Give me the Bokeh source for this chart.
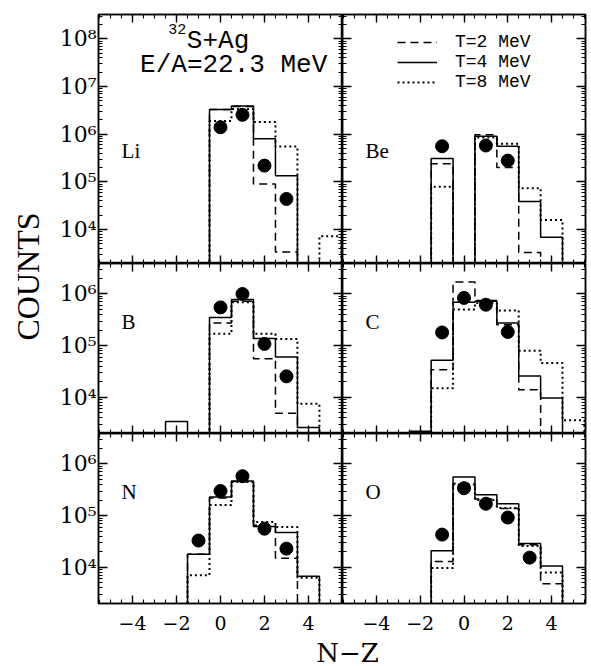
import math
from bokeh.plotting import figure
from bokeh.layouts import row, column
from bokeh.models import (Range1d, LinearAxis, LogAxis, FixedTicker, CustomJSTickFormatter,
                          Label, Legend, LegendItem)
from bokeh.embed import file_html
from bokeh.resources import INLINE

# ---------------- data ----------------
NZ_BINS = [-3, -2, -1, 0, 1, 2, 3, 4, 5]

LI_T2 = [0, 0, 0, 3.3e6, 3.8e6, 9.0e4, 3.4e3, 0, 0]
LI_T4 = [0, 0, 0, 3.3e6, 3.9e6, 8.0e5, 1.34e5, 0, 0]
LI_T8 = [0, 0, 0, 1.9e6, 3.4e6, 1.8e6, 5.5e5, 0, 7.3e3]
LI_X = [0, 1, 2, 3]
LI_Y = [1.4e6, 2.55e6, 2.2e5, 4.4e4]

BE_T2 = [0, 0, 2.4e5, 0, 9.7e5, 2.0e5, 3.3e3, 0, 0]
BE_T4 = [0, 0, 3.1e5, 0, 9.1e5, 5.6e5, 3.9e4, 6.9e3, 0]
BE_T8 = [0, 0, 7.9e4, 0, 8.5e5, 6.3e5, 7.4e4, 1.6e4, 0]
BE_X = [-1, 1, 2]
BE_Y = [5.6e5, 5.8e5, 2.8e5]

B_T2 = [0, 0, 0, 2.75e5, 7.2e5, 5.6e4, 4.9e3, 0, 0]
B_T4 = [0, 3.4e3, 0, 3.5e5, 7.8e5, 1.37e5, 6.0e4, 2.6e3, 0]
B_T8 = [0, 0, 0, 1.7e5, 6.9e5, 1.7e5, 1.35e5, 7.5e3, 0]
B_X = [0, 1, 2, 3]
B_Y = [5.5e5, 1.0e6, 1.08e5, 2.55e4]

C_T2 = [0, 0, 3.4e4, 1.7e6, 7.5e5, 2.55e5, 1.4e4, 0, 0]
C_T4 = [0, 2.2e3, 5.2e4, 6.9e5, 7.2e5, 2.75e5, 2.6e4, 9.7e3, 0]
C_T8 = [0, 0, 1.5e4, 5.0e5, 6.7e5, 4.8e5, 8.0e4, 4.6e4, 3.6e3]
C_X = [-1, 0, 1, 2]
C_Y = [1.8e5, 8.4e5, 6.2e5, 1.84e5]

N_T2 = [0, 0, 1.8e4, 2.2e5, 4.6e5, 6.5e4, 1.5e4, 0, 0]
N_T4 = [0, 0, 1.8e4, 2.3e5, 4.7e5, 6.2e4, 4.7e4, 6.7e3, 0]
N_T8 = [0, 0, 7.0e3, 1.6e5, 4.5e5, 7.5e4, 6.0e4, 6.3e3, 0]
N_X = [-1, 0, 1, 2, 3]
N_Y = [3.3e4, 3.0e5, 5.8e5, 5.6e4, 2.3e4]

O_T2 = [0, 0, 1.3e4, 4.2e5, 2.1e5, 1.37e5, 2.75e4, 4.8e3, 0]
O_T4 = [0, 0, 2.1e4, 5.6e5, 2.55e5, 1.7e5, 2.9e4, 1.06e4, 0]
O_T8 = [0, 0, 9.7e3, 4.0e5, 2.0e5, 1.4e5, 2.6e4, 7.9e3, 0]
O_X = [-1, 0, 1, 2, 3]
O_Y = [4.3e4, 3.4e5, 1.7e5, 9.2e4, 1.54e4]

PANEL_NAMES = ["Li", "Be", "B", "C", "N", "O"]
LEGEND_LABELS = ["T=2 MeV", "T=4 MeV", "T=8 MeV"]
X_TICKS = [-4, -2, 0, 2, 4]
TOP_Y_TICKS = [1e4, 1e5, 1e6, 1e7, 1e8]
LOW_Y_TICKS = [1e4, 1e5, 1e6]

# ---------------- layout constants ----------------
XLO, XHI = -5.55, 5.55
TOP_YR = (10 ** 3.29, 10 ** 8.51)
LOW_YR = (10 ** 3.30, 10 ** 6.59)
FLOOR = 1.0
LEFT_W, RIGHT_W = 244, 243
TOP_H, LOW_H = 249, 170
COUNTS_W = 50
BORDER_TOP, BORDER_BOTTOM = 14, 36
BORDER_LEFT, BORDER_RIGHT = 48, 6
LEGEND_ROW_Y = [211, 191, 171]   # screen offsets (from frame bottom) of the legend rows

SUP = {"0": "\u2070", "1": "\u00b9", "2": "\u00b2", "3": "\u00b3", "4": "\u2074",
       "5": "\u2075", "6": "\u2076", "7": "\u2077", "8": "\u2078", "9": "\u2079"}
SUP_JS = "const sup = %s; const e = Math.round(Math.log10(tick)); return '10' + String(e).split('').map(c => sup[c]).join('');" % (
    "{" + ",".join("'%s':'%s'" % (k, v) for k, v in SUP.items()) + "}")
XFMT_JS = "return tick < 0 ? '\u2212' + Math.abs(tick) : String(tick);"
BLANK_JS = "return '';"


def outline(bins, vals):
    xs, ys = [bins[0] - 0.5], [FLOOR]
    for c, v in zip(bins, vals):
        v = v if v > 0 else FLOOR
        xs += [c - 0.5, c + 0.5]
        ys += [v, v]
    xs.append(bins[-1] + 0.5)
    ys.append(FLOOR)
    return xs, ys


def style_axis(ax, maj_in):
    ax.axis_line_color = "black"
    ax.axis_line_width = 1.5
    ax.major_tick_line_color = "black"
    ax.minor_tick_line_color = "black"
    ax.major_tick_line_width = 1.4
    ax.minor_tick_line_width = 1.1
    ax.major_tick_in = maj_in
    ax.major_tick_out = 0
    ax.minor_tick_in = 4
    ax.minor_tick_out = 0


def blank_axis(ax):
    ax.formatter = CustomJSTickFormatter(code=BLANK_JS)
    ax.major_label_text_font_size = "0px"
    ax.major_label_standoff = 0


def make_panel(name, t2, t4, t8, dx, dy, top, left, bottom, legend=False, title=False):
    yr = TOP_YR if top else LOW_YR
    yticks = TOP_Y_TICKS if top else LOW_Y_TICKS
    ylo_dec = int(math.floor(math.log10(yr[0])))
    yhi_dec = int(math.ceil(math.log10(yr[1])))
    yminor = [k * 10 ** d for d in range(ylo_dec, yhi_dec) for k in range(2, 10)]
    xminor = [i * 0.5 for i in range(-11, 12)]

    p = figure(frame_width=LEFT_W if left else RIGHT_W,
               frame_height=TOP_H if top else LOW_H,
               x_range=Range1d(XLO, XHI), y_range=Range1d(*yr),
               y_axis_type="log", x_axis_location=None, y_axis_location=None,
               toolbar_location=None, output_backend="svg",
               min_border=0,
               min_border_left=BORDER_LEFT if left else 0,
               min_border_right=0 if left else BORDER_RIGHT,
               min_border_top=BORDER_TOP if top else 0,
               min_border_bottom=BORDER_BOTTOM if bottom else 0)
    p.outline_line_color = "black"
    p.outline_line_width = 1.5
    p.grid.visible = False
    p.background_fill_color = "white"
    p.border_fill_color = "white"

    for loc in ["left", "right"]:
        ax = LogAxis(ticker=FixedTicker(ticks=yticks, minor_ticks=yminor))
        style_axis(ax, 9)
        if loc == "left" and left:
            ax.formatter = CustomJSTickFormatter(code=SUP_JS)
            ax.major_label_text_font = "DejaVu Serif"
            ax.major_label_text_font_size = "22px"
            ax.major_label_text_color = "black"
            ax.major_label_standoff = 2
        else:
            blank_axis(ax)
        p.add_layout(ax, loc)
    for loc in ["below", "above"]:
        ax = LinearAxis(ticker=FixedTicker(ticks=X_TICKS, minor_ticks=xminor))
        style_axis(ax, 8)
        if loc == "below" and bottom:
            ax.formatter = CustomJSTickFormatter(code=XFMT_JS)
            ax.major_label_text_font = "DejaVu Serif"
            ax.major_label_text_font_size = "19px"
            ax.major_label_text_color = "black"
            ax.major_label_standoff = 12
        else:
            blank_axis(ax)
        p.add_layout(ax, loc)

    xs, ys = outline(NZ_BINS, t2)
    r2 = p.line(xs, ys, line_color="black", line_width=1.5, line_dash="8 5")
    xs, ys = outline(NZ_BINS, t4)
    r4 = p.line(xs, ys, line_color="black", line_width=1.5)
    xs, ys = outline(NZ_BINS, t8)
    r8 = p.line(xs, ys, line_color="black", line_width=2, line_dash="2 3")
    p.scatter(dx, dy, size=13, color="black")

    p.add_layout(Label(x=-4.5, y=10 ** (5.65 if top else 5.46), text=name,
                       text_font="Liberation Serif", text_font_size="21px",
                       text_color="black", text_align="left", text_baseline="middle"))

    if title:
        p.add_layout(Label(x=-1.56, y=10 ** 8.2, text="32",
                           text_font="Liberation Mono", text_font_size="15px",
                           text_color="black", text_align="right", text_baseline="middle"))
        p.add_layout(Label(x=-1.53, y=10 ** 7.96, text="S+Ag",
                           text_font="Liberation Mono", text_font_size="26px",
                           text_color="black", text_align="left", text_baseline="middle"))
        p.add_layout(Label(x=0.6, y=10 ** 7.46, text="E/A=22.3 MeV",
                           text_font="Liberation Mono", text_font_size="26px",
                           text_color="black", text_align="center", text_baseline="middle"))
    if legend:
        for lab, rend, vy in zip(LEGEND_LABELS, [r2, r4, r8], LEGEND_ROW_Y):
            leg = Legend(items=[LegendItem(label=lab, renderers=[rend])],
                         location=(55, vy), padding=0, margin=0, spacing=0,
                         glyph_width=40, glyph_height=18, label_height=18, label_standoff=18,
                         label_text_font="Liberation Mono", label_text_font_size="18px",
                         label_text_color="black",
                         border_line_color=None, background_fill_alpha=0)
            p.add_layout(leg)
    return p


p_li = make_panel(PANEL_NAMES[0], LI_T2, LI_T4, LI_T8, LI_X, LI_Y, True, True, False, title=True)
p_be = make_panel(PANEL_NAMES[1], BE_T2, BE_T4, BE_T8, BE_X, BE_Y, True, False, False, legend=True)
p_b = make_panel(PANEL_NAMES[2], B_T2, B_T4, B_T8, B_X, B_Y, False, True, False)
p_c = make_panel(PANEL_NAMES[3], C_T2, C_T4, C_T8, C_X, C_Y, False, False, False)
p_n = make_panel(PANEL_NAMES[4], N_T2, N_T4, N_T8, N_X, N_Y, False, True, True)
p_o = make_panel(PANEL_NAMES[5], O_T2, O_T4, O_T8, O_X, O_Y, False, False, True)

GRID_H = BORDER_TOP + TOP_H + LOW_H + LOW_H + BORDER_BOTTOM
TOTAL_W, TOTAL_H = 591, 666

counts_fig = figure(width=COUNTS_W, height=GRID_H, x_range=Range1d(0, COUNTS_W),
                    y_range=Range1d(0, GRID_H), x_axis_location=None, y_axis_location=None,
                    toolbar_location=None, output_backend="svg", min_border=0)
counts_fig.outline_line_color = None
counts_fig.grid.visible = False
counts_fig.add_layout(Label(x=27, y=GRID_H - 276, text="COUNTS", angle=math.pi / 2,
                            text_font="Liberation Serif", text_font_size="32px",
                            text_color="black", text_align="center", text_baseline="middle"))

NZ_H = TOTAL_H - GRID_H
nz_fig = figure(width=TOTAL_W, height=NZ_H, x_range=Range1d(0, TOTAL_W),
                y_range=Range1d(0, NZ_H), x_axis_location=None, y_axis_location=None,
                toolbar_location=None, output_backend="svg", min_border=0)
nz_fig.outline_line_color = None
nz_fig.grid.visible = False
nz_fig.add_layout(Label(x=347, y=TOTAL_H - 652, text="N\u2212Z",
                        text_font="DejaVu Serif", text_font_size="26px",
                        text_color="black", text_align="center", text_baseline="middle"))

layout = column(row(counts_fig, column(row(p_li, p_be), row(p_b, p_c), row(p_n, p_o))), nz_fig)

open("out.html", "w").write(file_html(layout, INLINE))
